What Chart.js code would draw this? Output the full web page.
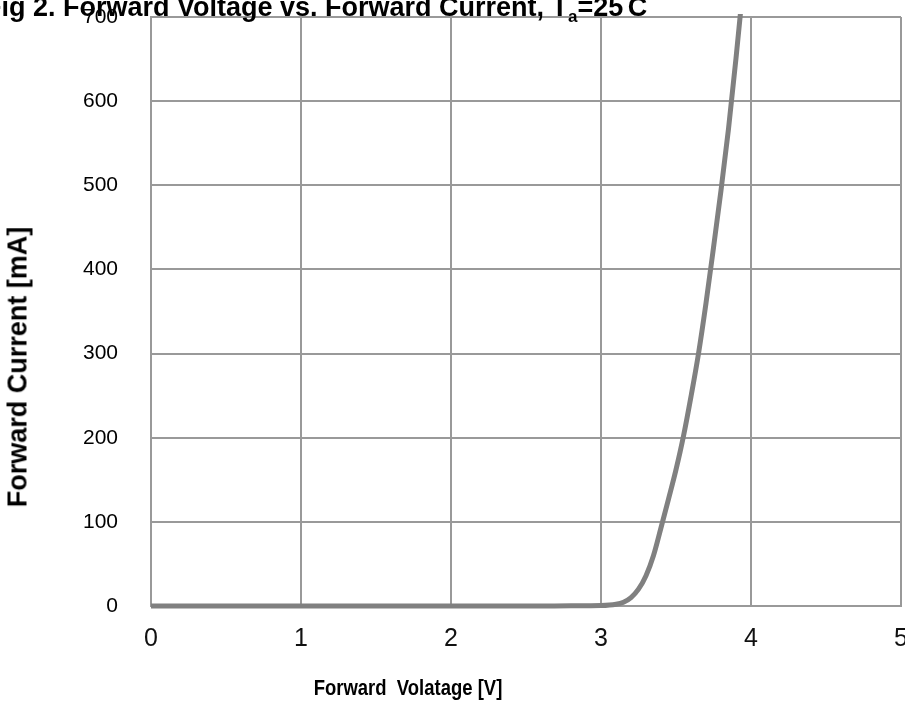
<!DOCTYPE html>
<html>
<head>
<meta charset="utf-8">
<script src="https://cdn.jsdelivr.net/npm/chart.js@4.4.1/dist/chart.umd.min.js"></script>
<style>
  body { margin: 0; background: #fff; }
  #wrap { position: relative; width: 905px; height: 705px; overflow: hidden; }
  .lbl { position: absolute; font-family: "Liberation Sans", Arial, sans-serif; font-weight: bold; white-space: pre; color: #000; line-height: 1; }
  #title { left: -15px; top: -6px; font-size: 27px; z-index: 2; }
  #title sub { font-size: 17px; vertical-align: -6px; }
  #title sup { font-size: 13px; vertical-align: 9px; }
  #ytitle { left: 18px; top: 367px; font-size: 27px; transform: translate(-50%, -50%) rotate(-90deg); }
  #xtitle { left: 408px; top: 688px; font-size: 22px; transform: translate(-50%, -50%) scaleX(0.84); }
</style>
</head>
<body>
<div id="wrap">
  <canvas id="ivChart" width="905" height="705"></canvas>
  <div id="title" class="lbl">Fig 2. Forward Voltage vs. Forward Current, T<sub>a</sub>=25<sup>˚</sup>C</div>
  <div id="ytitle" class="lbl">Forward Current [mA]</div>
  <div id="xtitle" class="lbl">Forward  Volatage [V]</div>
</div>
<script>
// forward voltage [V] and forward current [mA]
const voltage = [0, 0.5, 1, 1.5, 2, 2.5, 2.8, 3.0, 3.1, 3.15, 3.2, 3.25, 3.3, 3.35, 3.4, 3.45, 3.5, 3.55, 3.6, 3.65, 3.7, 3.75, 3.8, 3.85, 3.9, 3.93];
const current = [0, 0, 0, 0, 0, 0, 0.2, 0.5, 2, 4.5, 10, 20, 36, 60, 93, 127, 162, 202, 249, 300, 360, 426, 494, 567, 651, 705];

const xTicks = [0, 1, 2, 3, 4, 5];
const yTicks = [0, 100, 200, 300, 400, 500, 600, 700];

const points = voltage.map((v, i) => ({ x: v, y: current[i] }));
const gridColor = '#999999';

// stop tick labels from pushing the plot area inwards
const noPad = axis => { axis.paddingLeft = 0; axis.paddingRight = 0; axis.paddingTop = 0; axis.paddingBottom = 0; };

const ctx = document.getElementById('ivChart').getContext('2d');
new Chart(ctx, {
    type: 'scatter',
    data: {
        datasets: [{
            data: points,
            showLine: true,
            borderColor: '#808080',
            borderWidth: 5,
            pointRadius: 0,
            cubicInterpolationMode: 'monotone',
            clip: 3
        }]
    },
    options: {
        responsive: false,
        animation: false,
        layout: { padding: { top: 17, right: 4, left: 0, bottom: 0 } },
        plugins: { legend: { display: false }, tooltip: { enabled: false } },
        scales: {
            x: {
                type: 'linear',
                min: 0,
                max: 5,
                afterBuildTicks: axis => { axis.ticks = xTicks.map(v => ({ value: v })); },
                grid: { color: gridColor, lineWidth: 2, drawTicks: false },
                border: { color: gridColor, width: 2 },
                ticks: {
                    color: '#111',
                    padding: 18,
                    font: { family: '"Liberation Sans Narrow", "Liberation Sans", sans-serif', size: 25 }
                },
                afterFit: axis => { axis.height = 99; noPad(axis); }
            },
            y: {
                min: 0,
                max: 700,
                afterBuildTicks: axis => { axis.ticks = yTicks.map(v => ({ value: v })); },
                grid: { color: gridColor, lineWidth: 2, drawTicks: false },
                border: { color: gridColor, width: 2 },
                ticks: {
                    color: '#000',
                    padding: 33,
                    font: { family: '"Liberation Sans", Arial, sans-serif', size: 21 }
                },
                afterFit: axis => { axis.width = 151; noPad(axis); }
            }
        }
    }
});
</script>
</body>
</html>
